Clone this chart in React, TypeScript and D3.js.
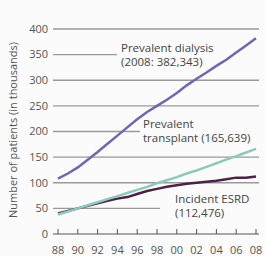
import React from "react";
import * as d3 from "d3";

const years = [88, 89, 90, 91, 92, 93, 94, 95, 96, 97, 98, 99, 100, 101, 102, 103, 104, 105, 106, 107, 108];
const dialysis = [108, 118, 130, 145, 160, 176, 192, 208, 224, 238, 250, 262, 275, 290, 303, 315, 328, 340, 354, 368, 382];
const transplant = [38, 44, 50, 56, 62, 68, 74, 80, 86, 92, 99, 105, 111, 118, 124, 131, 138, 145, 152, 159, 166];
const incident = [40, 45, 50, 55, 60, 65, 69, 72, 78, 84, 88, 92, 95, 98, 100, 102, 104, 107, 110, 110, 112];
const yTicks = [0, 50, 100, 150, 200, 250, 300, 350, 400];
const xTicks = [88, 90, 92, 94, 96, 98, 100, 102, 104, 106, 108];

const W = 265;
const H = 256;
const font = "'Open Sans', sans-serif";

const App = () => {
  const x = d3.scaleLinear().domain([88, 108]).range([58, 256]);
  const y = d3.scaleLinear().domain([0, 400]).range([234, 29]);

  const line = (vals: number[]) =>
    d3
      .line<number>()
      .x((d, i) => x(years[i]))
      .y((d) => y(d))(vals) || "";

  // gridlines that stop short where a label sits
  const gridEnd: Record<number, number> = { 350: 117, 200: 140, 50: 160 };

  return (
    <svg
      width={W}
      height={H}
      style={{ position: "absolute", left: 0, top: 0, background: "#fbfbfb" }}
    >
      {yTicks.map((t) => (
        <g key={t}>
          {t > 0 && (
            <line
              x1={53}
              x2={gridEnd[t] ?? 259}
              y1={y(t)}
              y2={y(t)}
              stroke="#9a9a9a"
              strokeWidth={1.3}
            />
          )}
          <text
            x={48}
            y={y(t)}
            dy="0.35em"
            textAnchor="end"
            fontFamily={font}
            fontSize={11}
            fill="#555"
          >
            {t}
          </text>
        </g>
      ))}

      <line x1={53} x2={259} y1={y(0)} y2={y(0)} stroke="#555" strokeWidth={1.2} />
      {xTicks.map((t) => (
        <g key={t}>
          <line x1={x(t)} x2={x(t)} y1={y(0)} y2={y(0) - 5} stroke="#555" strokeWidth={1} />
          <text
            x={x(t)}
            y={250}
            dy="0.35em"
            textAnchor="middle"
            fontFamily={font}
            fontSize={11}
            fill="#555"
          >
            {String(t % 100).padStart(2, "0")}
          </text>
        </g>
      ))}

      <text
        transform={`translate(13, 130) rotate(-90)`}
        textAnchor="middle"
        dy="0.35em"
        fontFamily={font}
        fontSize={11}
        fill="#555"
      >
        Number of patients (in thousands)
      </text>

      <path d={line(dialysis)} fill="none" stroke="#6f67b0" strokeWidth={2.5} />
      <path d={line(incident)} fill="none" stroke="#4a2347" strokeWidth={2.5} />
      <path d={line(transplant)} fill="none" stroke="#8fc9bb" strokeWidth={2.5} />

      <g fontFamily={font} fontSize={11.5} fill="#444">
        <text x={121} y={48} dy="0.35em">Prevalent dialysis</text>
        <text x={121} y={62} dy="0.35em">(2008: 382,343)</text>
        <text x={143} y={124} dy="0.35em">Prevalent</text>
        <text x={143} y={138} dy="0.35em">transplant (165,639)</text>
        <text x={175} y={199} dy="0.35em">Incident ESRD</text>
        <text x={175} y={213} dy="0.35em">(112,476)</text>
      </g>
    </svg>
  );
};

export default App;
